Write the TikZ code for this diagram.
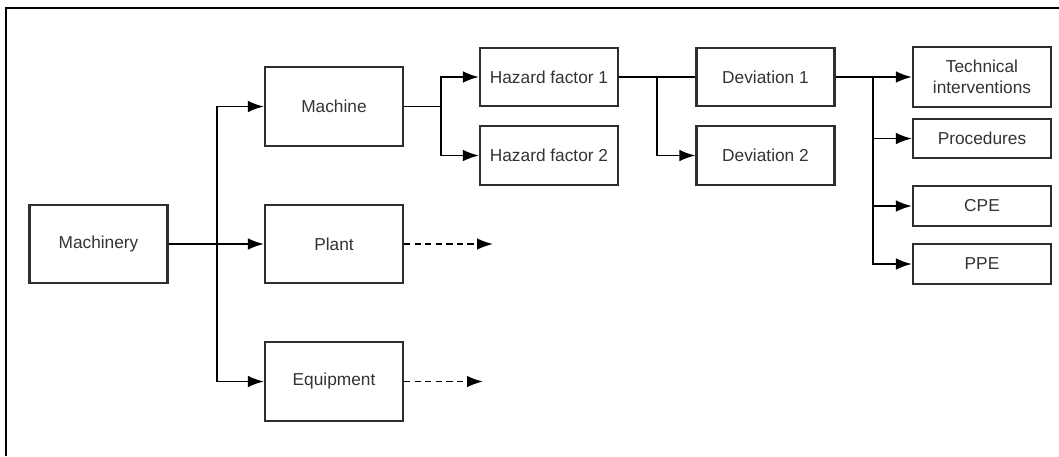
\documentclass[tikz,border=0pt]{standalone}
\usepackage{fontspec}
\setmainfont{Liberation Sans}
\usepackage{xcolor}
\usetikzlibrary{arrows.meta}
\definecolor{boxgray}{HTML}{2E2E2E}
\definecolor{txtgray}{HTML}{333333}

\begin{document}
\begin{tikzpicture}[x=0.025cm,y=-0.025cm,
    blk/.style={draw=boxgray,line width=1.5pt,text=txtgray,inner sep=0pt,
        font=\fontsize{12.3}{14.5}\selectfont,align=center},
    bigblk/.style={blk,minimum width=3.45cm,minimum height=1.97cm},
    midblk/.style={blk,minimum width=3.45cm,minimum height=1.47cm},
    lowblk/.style={blk,minimum width=3.45cm,minimum height=0.98cm},
    conn/.style={line width=1.3pt,black},
    arr/.style={conn,-{Latex[length=4mm,width=2.9mm]}},
    dasharr/.style={arr,dash pattern=on 4.5pt off 3pt}]
        \useasboundingbox (0,0) rectangle (1059,456);
        % 外框
        \draw[line width=2pt] (1059,8)--(6,8)--(6,456);
        % 第一列
        \node[bigblk] (machinery) at(98.5,244) {Machinery};
        % 第二列
        \node[bigblk] (machine) at(334,106.5) {Machine};
        \node[bigblk] (plant) at(334,244) {Plant};
        \node[bigblk] (equip) at(334,381.5) {Equipment};
        % 第三列
        \node[midblk] (hf1) at(549,77) {Hazard factor 1};
        \node[midblk] (hf2) at(549,155.5) {Hazard factor 2};
        % 第四列
        \node[midblk] (dev1) at(765.5,77) {Deviation 1};
        \node[midblk] (dev2) at(765.5,155.5) {Deviation 2};
        % 第五列
        \node[blk,minimum width=3.45cm,minimum height=1.5cm] (tech) at(982,77) {Technical\\interventions};
        \node[lowblk] (proc) at(982,138.5) {Procedures};
        \node[lowblk] (cpe) at(982,206) {CPE};
        \node[lowblk] (ppe) at(982,264) {PPE};
        % 分支点
        \coordinate (j1) at(217,244);
        \coordinate (j2) at(441,106.5);
        \coordinate (j3) at(657,77);
        \coordinate (j4) at(873,77);
        \coordinate (plantend) at(493,244);
        \coordinate (equipend) at(483,381.5);
        % Machinery 分支
        \draw[arr] (machinery.east)--(plant.west);
        \draw[arr] (j1) |- (machine.west);
        \draw[arr] (j1) |- (equip.west);
        \draw[dasharr] (plant.east)--(plantend);
        \draw[dasharr] (equip.east)--(equipend);
        % Machine 分支
        \draw[conn] (machine.east)--(j2);
        \draw[arr] (j2) |- (hf1.west);
        \draw[arr] (j2) |- (hf2.west);
        % Hazard factor 分支
        \draw[conn] (hf1.east)--(dev1.west);
        \draw[arr] (j3) |- (dev2.west);
        % Deviation 分支
        \draw[arr] (dev1.east)--(tech.west);
        \draw[arr] (j4) |- (proc.west);
        \draw[arr] (j4) |- (cpe.west);
        \draw[arr] (j4) |- (ppe.west);
\end{tikzpicture}
\end{document}
